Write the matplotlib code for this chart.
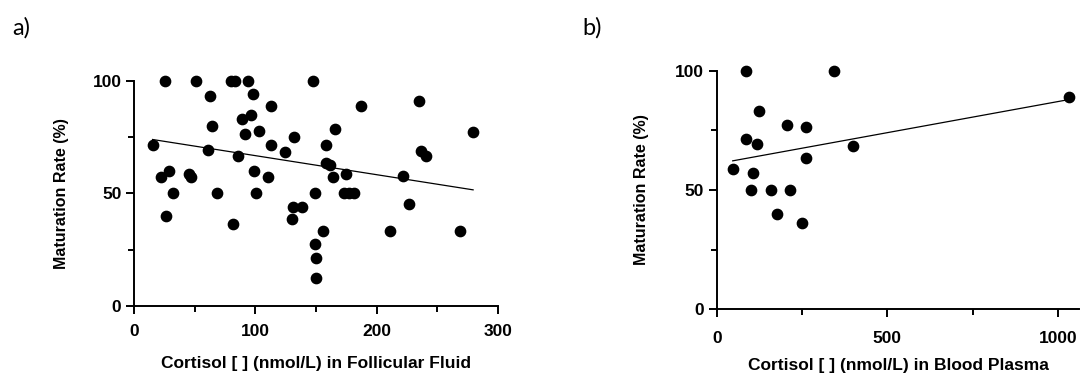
import matplotlib
matplotlib.use("Agg")
import matplotlib.pyplot as plt
import numpy as np

# Panel a: Follicular fluid
ff_cortisol = [25.4, 50.8, 80.0, 83.6, 93.7, 147.8, 62.8, 97.8, 112.8, 89.3,
               96.2, 64.5, 91.5, 103.0, 132.0, 15.3, 112.6, 61.2, 124.6, 86.1,
               28.7, 22.1, 45.6, 46.7, 98.6, 110.4, 32.2, 68.3, 100.5, 148.9,
               26.5, 131.1, 138.3, 130.6, 82.0, 148.9, 149.7, 150.3,
               186.9, 234.7, 165.6, 279.5, 158.5, 236.3, 240.4, 158.5, 161.2,
               175.1, 163.9, 222.1, 173.0, 177.0, 181.0, 226.8, 156.0, 211.2, 269.1]
ff_maturation = [100, 100, 100, 100, 100, 100, 93.4, 94.0, 88.9, 83.1,
                 84.8, 80.0, 76.5, 77.8, 75.2, 71.5, 71.3, 69.2, 68.5, 66.6,
                 60.1, 57.1, 58.7, 57.1, 60.1, 57.1, 50, 50, 50, 50,
                 40.1, 43.8, 43.8, 38.5, 36.4, 27.5, 21.3, 12.3,
                 88.9, 90.9, 78.6, 77.2, 71.5, 68.9, 66.7, 63.6, 62.6,
                 58.7, 57.1, 57.8, 50, 50, 50, 45.4, 33.1, 33.1, 33.1]
ff_fit = {"slope": -0.0846, "intercept": 75.2, "xmin": 15.3, "xmax": 279.5}

# Panel b: Blood plasma
bp_cortisol = [85.7, 343.0, 124.6, 206.5, 260.2, 85.7, 118.8, 400.6, 260.2,
               46.8, 107.0, 99.4, 158.8, 214.3, 177.2, 249.4, 1031.0]
bp_maturation = [100, 100, 83.2, 77.3, 76.4, 71.3, 69.1, 68.4, 63.3,
                 58.8, 57.0, 50, 50, 50, 39.9, 36.3, 88.8]
bp_fit = {"slope": 0.02607, "intercept": 61.0, "xmin": 46.8, "xmax": 1031.0}

ylabel = "Maturation Rate (%)"
xlabel_a = "Cortisol [ ] (nmol/L) in Follicular Fluid"
xlabel_b = "Cortisol [ ] (nmol/L) in Blood Plasma"

plt.rcParams['font.family'] = ['Liberation Sans', 'DejaVu Sans']

fig = plt.figure(figsize=(10.84, 3.78), dpi=100)
ax_a = fig.add_axes([0.1236, 0.1905, 0.3358, 0.596])
ax_b = fig.add_axes([0.6612, 0.1817, 0.3344, 0.6313])


def style(ax, xlim, xmajor, xminor, xpad, ylabelpad):
    ax.set_xlim(*xlim)
    ax.set_ylim(0, 100)
    for s in ["top", "right"]:
        ax.spines[s].set_visible(False)
    for s in ["left", "bottom"]:
        ax.spines[s].set_linewidth(1.4)
    ax.set_xticks(xmajor)
    ax.set_xticks(xminor, minor=True)
    ax.set_yticks([0, 50, 100])
    ax.set_yticks([25, 75], minor=True)
    ax.tick_params(which="major", length=6, width=1.4, labelsize=12.5, pad=3)
    ax.tick_params(axis="x", which="major", pad=xpad)
    ax.tick_params(which="minor", length=4, width=1.4)
    for lab in ax.get_xticklabels() + ax.get_yticklabels():
        lab.set_fontweight("bold")
    ax.set_ylabel(ylabel, fontsize=11.5, fontweight="bold", labelpad=ylabelpad)


def plot_panel(ax, x, y, fit):
    ax.scatter(x, y, s=55, color="black", zorder=3, clip_on=False)
    xs = np.array([fit["xmin"], fit["xmax"]])
    ax.plot(xs, fit["intercept"] + fit["slope"] * xs, color="black", lw=0.9, zorder=2)


plot_panel(ax_a, ff_cortisol, ff_maturation, ff_fit)
style(ax_a, (0, 300), [0, 100, 200, 300], [50, 150, 250], xpad=7, ylabelpad=17)
ax_a.set_xlabel(xlabel_a, fontsize=12.5, fontweight="bold", labelpad=12)

plot_panel(ax_b, bp_cortisol, bp_maturation, bp_fit)
style(ax_b, (0, 1062), [0, 500, 1000], [250, 750], xpad=9.5, ylabelpad=19)
ax_b.set_xlabel(xlabel_b, fontsize=12.5, fontweight="bold", labelpad=9)

fig.text(0.011, 0.955, "a)", fontsize=17, va="top", family=["Lato", "DejaVu Sans"])
fig.text(0.537, 0.955, "b)", fontsize=17, va="top", family=["Lato", "DejaVu Sans"])

fig.savefig("out.png", dpi=100)
